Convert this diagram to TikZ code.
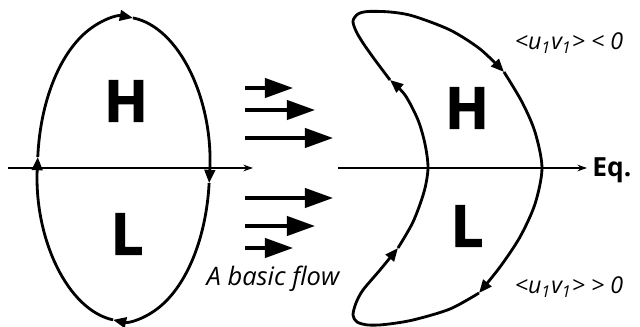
\documentclass[tikz,border=0pt]{standalone}
\usepackage{fontspec}
\setmainfont{Open Sans}
\newfontfamily\heavyfont[BoldFeatures={FakeBold=1.6}]{Open Sans}
\usetikzlibrary{arrows.meta, positioning}

\begin{document}
\begin{tikzpicture}[
        x=0.02cm, y=0.02cm,
        loopline/.style={-{Triangle[length=7.5pt, width=6pt]}, line width=1.6pt},
        flow/.style={-{Triangle[length=16pt, width=11pt]}, line width=1.9pt},
        axis/.style={-{Stealth[length=5.5pt, width=3.8pt]}, line width=0.7pt},
        region/.style={font=\fontsize{33}{33}\heavyfont\bfseries, inner sep=0pt},
        note/.style={font=\fontsize{13.2}{15}\selectfont\itshape, inner sep=0pt}
    ]
    \useasboundingbox (0,0) rectangle (640,327);

    % axes
    \coordinate (lstart) at (8,159);
    \coordinate (lend) at (253,159);
    \coordinate (rstart) at (338,159);
    \coordinate (rend) at (587,159);
    \draw[axis] (lstart) -- (lend);
    \draw[axis] (rstart) -- (rend);
    \node[anchor=west, font=\fontsize{15}{15}\selectfont\bfseries, inner sep=0pt] (eq) at (592,157) {Eq.};

    % closed circulation (left)
    \coordinate (c) at (123.5,158);
    \foreach \a/\b in {175.5/83.7, 83.7/-5.3, -5.3/-97, -97/-184.5}
        \draw[loopline] (c) ++(\a:86 and 152) arc[start angle=\a, end angle=\b, x radius=86, y radius=152];

    % tilted circulation (right)
    \draw[loopline] plot[smooth] coordinates {(390,247) (375,267) (363,284) (356,296) (353,306) (358,313) (368,315.5) (390,315) (413,311) (450,297) (480,278) (504,255)};
    \draw[loopline] plot[smooth] coordinates {(504,255) (522,225) (535,195) (542,159) (535,123) (520,90) (500,60) (479,34)};
    \draw[loopline] plot[smooth] coordinates {(479,34) (450,18) (413,7) (385,2.5) (368,2) (357,5) (353,12) (356,24) (363,37) (380,57) (398,79)};
    \draw[loopline] plot[smooth] coordinates {(398,79) (413,105) (424,135) (428,159) (425,183) (418,207) (405,232) (390,247)};

    % basic flow
    \foreach \y/\x [count=\i] in {239/293, 217/315, 189/333, 129/333, 101/315, 79/293} {
        \coordinate (tail\i) at (245,\y);
        \coordinate (head\i) at (\x,\y);
        \draw[flow] (tail\i) -- (head\i);
    }

    \node[region] (hleft) at (126,226) {H};
    \node[region] (lleft) at (127,93) {L};
    \node[region] (hright) at (467,219) {H};
    \node[region] (lright) at (467,101) {L};

    \node[note, font=\fontsize{14.5}{16}\selectfont\itshape] (flowlabel) at (273,48) {A basic flow};
    \node[note] (upper) at (569,284) {<u\textsubscript{1}v\textsubscript{1}> < 0};
    \node[note] (lower) at (569,40) {<u\textsubscript{1}v\textsubscript{1}> > 0};
\end{tikzpicture}
\end{document}
